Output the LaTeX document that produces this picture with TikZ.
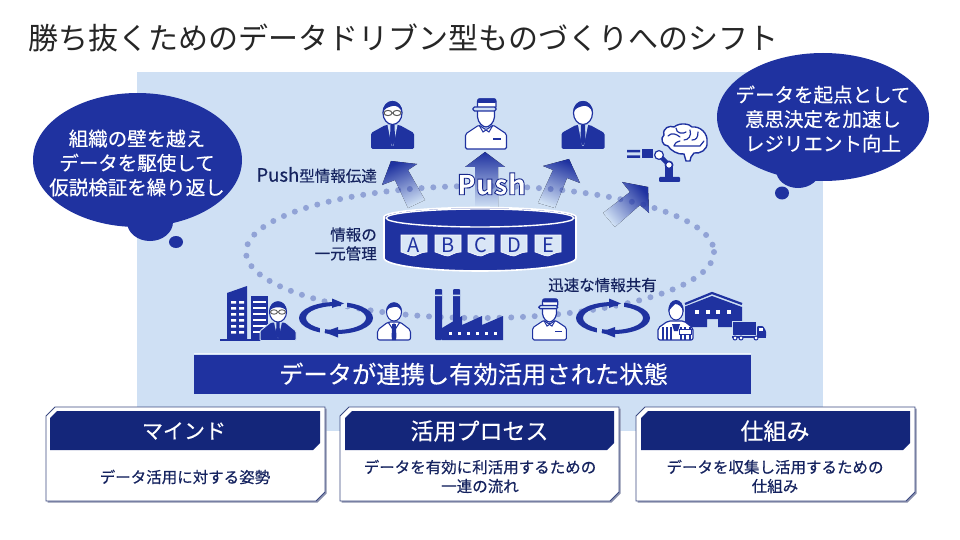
\documentclass[tikz,border=0pt]{standalone}
\usepackage{fontspec}
\setmainfont{Noto Sans CJK JP}
\newfontfamily\medcjk{Noto Sans CJK JP}[FakeBold=0.4]
\usetikzlibrary{calc}
\definecolor{bgblue}{HTML}{CFE0F4}
\definecolor{royal}{HTML}{1F32A0}
\definecolor{navy}{HTML}{14267A}
\definecolor{ink}{HTML}{15235F}
\definecolor{midblue}{HTML}{3146AE}
\definecolor{boxline}{HTML}{3C4A82}
\definecolor{boxshade}{HTML}{8A90AC}
\definecolor{tabfill}{HTML}{D9E6F6}
\newcommand{\cutfill}[6]{% x1 y1 x2 y2 cut style
  \path[#6] (#1+#5,#2) -- (#3,#2) -- (#3,#4-#5) -- (#3-#5,#4) -- (#1,#4) -- (#1,#2+#5) -- cycle;}
\tikzset{
  x=1pt,y=-1pt,
  whitetxt/.style={text=white,align=center,inner sep=0pt},
  inktxt/.style={text=ink,align=center,inner sep=0pt,font=\medcjk\fontsize{15.5}{19}\selectfont},
  bubbletxt/.style={whitetxt,font=\medcjk\fontsize{19.5}{24.4}\selectfont},
  headtxt/.style={whitetxt,font=\medcjk\fontsize{23}{27}\selectfont},
  tabtxt/.style={text=royal,inner sep=0pt,font=\fontsize{20}{22}\selectfont},
  pushshade/.style={top color=royal,middle color=midblue,bottom color=bgblue,draw=none},
  suitman/.pic={
    \fill[royal,rounded corners=1.5] (-21.5,0) -- (-21.5,-16) -- (-7,-24) -- (7,-24) -- (21.5,-16) -- (21.5,0) -- cycle;
    \fill[bgblue] (-5,-24) -- (-.8,-3) -- (.8,-3) -- (5,-24) -- cycle;
    \fill[royal] (-2,-24) -- (2,-24) -- (2.6,-8) -- (0,-3) -- (-2.6,-8) -- cycle;
    \fill[white] (0,-36) ellipse[x radius=9.5,y radius=11.5];
    \draw[royal,line width=1.2] (0,-36) ellipse[x radius=9.5,y radius=11.5];
    \fill[royal] (-9.8,-36) .. controls (-10,-52) and (10,-52) .. (9.8,-36) .. controls (8,-42) and (3,-44) .. (0,-43) .. controls (-4,-42) and (-8,-41) .. (-9.8,-36) -- cycle;
  },
  glassesman/.pic={
    \pic {suitman};
    \draw[gray!70!black,line width=1,fill=white] (-4.5,-36) ellipse[x radius=4,y radius=2.6] (4.5,-36) ellipse[x radius=4,y radius=2.6];
  },
  capman/.pic={
    \draw[royal,fill=white,line width=1.1,rounded corners=1.5] (-20.5,0) -- (-20.5,-15) -- (-7,-24) -- (0,-19) -- (7,-24) -- (20.5,-15) -- (20.5,0) -- cycle;
    \draw[royal,line width=1] (-7,-24) -- (-3,-17) -- (0,-19) -- (3,-17) -- (7,-24);
    \draw[royal,line width=1.3] (7,-10) -- (15,-10);
    \draw[royal,fill=white,line width=1.2] (-8.5,-42) -- (-8.5,-32) .. controls (-8,-26) and (-3,-22) .. (0,-22) .. controls (3,-22) and (8,-26) .. (8.5,-32) -- (8.5,-42) -- cycle;
    \draw[royal,fill=white,line width=1.3,rounded corners=2.5] (-8.5,-40) -- (-8.5,-50) -- (10,-50) -- (10,-40) -- cycle;
    \fill[royal,rounded corners=1] (-8.5,-50.5) rectangle (10,-46);
    \draw[royal,fill=bgblue,line width=1.2,rounded corners=1.5] (-13,-42) -- (10,-42) -- (10,-38) -- (-13,-38) -- cycle;
  },
  shirtman/.pic={
    \draw[royal,fill=white,line width=1.1,rounded corners=2] (-16.5,0) -- (-16.5,-10) -- (-6,-18) -- (6,-18) -- (16.5,-10) -- (16.5,0) -- cycle;
    \fill[royal] (-1.8,-16) -- (1.8,-16) -- (2.4,-4) -- (2,0) -- (-2,0) -- (-2.4,-4) -- cycle;
    \draw[royal,line width=1] (-6,-18) -- (-2,-12) -- (0,-16) -- (2,-12) -- (6,-18);
    \fill[white] (0,-28) ellipse[x radius=7.5,y radius=9];
    \draw[royal,line width=1] (0,-28) ellipse[x radius=7.5,y radius=9];
    \fill[royal] (-8,-28) .. controls (-8,-41) and (8,-41) .. (8,-28) .. controls (6,-32) and (3,-34) .. (0,-33) .. controls (-3,-33) and (-6,-32) .. (-8,-28) -- cycle;
  },
  cyclering/.pic={
    \fill[royal,even odd rule] (0,0) ellipse[x radius=37,y radius=16] (0,0) ellipse[x radius=30,y radius=12];
    \fill[bgblue] (5,-17) rectangle (11,-10);
    \fill[bgblue] (-16,10) rectangle (-11,17);
    \fill[royal] (8,-14.5) -- (-4,-19.5) -- (-4,-10) -- cycle;
    \fill[royal] (-12,14) -- (2,9) -- (2,19.5) -- cycle;
  },
}
\begin{document}
\begin{tikzpicture}
\useasboundingbox (0,0) rectangle (960,540);
\fill[white] (0,0) rectangle (960,540);
\node[anchor=west,inner sep=0pt,text=black!85,font=\fontsize{30}{34}\selectfont] (title) at (28,38) {勝ち抜くためのデータドリブン型ものづくりへのシフト};
\fill[bgblue] (137,72) rectangle (823,431);

% push arrows
\fill[pushshade,shading angle=25] (391,161) -- (417,164) -- (408,170) -- (425,200) -- (408,208) -- (395,180) -- (382,185) -- cycle;
\fill[pushshade,shading angle=0] (485,152) -- (505,167) -- (498,167) -- (498,207) -- (475,207) -- (475,167) -- (465,167) -- cycle;
\fill[pushshade,shading angle=-22] (569,159) -- (580,183) -- (567,178) -- (555,208) -- (538,203) -- (553,170) -- (543,166) -- cycle;
\fill[pushshade,shading angle=-50] (648,187) -- (649,213) -- (640,205) -- (615,227) -- (603,213) -- (630,192) -- (622,182) -- cycle;

% dotted loop
\draw[royal,opacity=.35,line width=6,line cap=round,dash pattern=on 0pt off 11.75pt] (480,252) ellipse[x radius=234,y radius=66];

% bubbles
\fill[royal] (137.5,160) ellipse[x radius=104.5,y radius=67];
\fill[royal] (150,222) ellipse[x radius=23,y radius=19];
\fill[royal] (176,242) ellipse[x radius=7,y radius=6];
\node[bubbletxt] (bubbleL) at (137,163) {組織の壁を越え\\データを駆使して\\仮説検証を繰り返し};
\fill[royal] (823,117) ellipse[x radius=106,y radius=64];
\fill[royal] (798,170) ellipse[x radius=22,y radius=18];
\fill[royal] (782,193) ellipse[x radius=7,y radius=6.5];
\node[bubbletxt] (bubbleR) at (823,119) {データを起点として\\意思決定を加速し\\レジリエント向上};

% top row people
\pic (topA) at (392.5,149) {glassesman};
\pic (topB) at (486,149) {capman};
\pic (topC) at (583,149) {suitman};

% robot and brain
\fill[royal] (627,150) rectangle (640,152.5) (627,155.5) rectangle (640,158);
\fill[royal] (642,149) rectangle (653,158);
\draw[royal,line width=4.5,line cap=round] (659,155) -- (669,165);
\fill[royal] (665,165) rectangle (673,178);
\fill[royal,rounded corners=1] (659,177) rectangle (680,182);
\draw[royal,fill=white,line width=1.2] (659,155) circle[radius=4.4];
\draw[royal,fill=white,line width=1.6] (669,165) circle[radius=3.6];
\draw[royal,fill=white,line width=1.4] (664,135) .. controls (662,128) and (670,125) .. (674,127) .. controls (680,122) and (690,124) .. (692,127) .. controls (700,126) and (708,133) .. (707,142) .. controls (708,150) and (700,154) .. (694,153) -- (691,157) -- (690,161) -- (686,161) -- (684,154) .. controls (678,155) and (670,150) .. (668,146) .. controls (662,146) and (660,138) .. (664,135) -- cycle;
\draw[royal,line width=1.2,line cap=round] (668,136) .. controls (672,132) and (676,134) .. (680,137) (676,128) .. controls (676,134) and (684,134) .. (686,132) (690,130) .. controls (692,136) and (688,140) .. (684,140) (698,132) .. controls (698,138) and (696,140) .. (692,140) (674,146) -- (700,146) (680,141) .. controls (676,142) and (674,144) .. (674,146) (700,146) -- (704,141);

% cylinder
\path[draw=white,line width=1.6,fill=royal] (384,217) -- (384,258) arc[start angle=180,end angle=0,x radius=96,y radius=13] -- (576,217) arc[start angle=0,end angle=-180,x radius=96,y radius=9.5] -- cycle;
\draw[white,line width=1.4,fill=royal] (480,218) ellipse[x radius=94,y radius=9];
\foreach \lx/\nm in {401/A,435/B,468/C,501/D,535/E}{
  \path[fill=tabfill,draw=white,line width=.6] (\lx,235) -- (\lx+26,235) -- (\lx+26,252) .. controls (\lx+20,252) and (\lx+17,255) .. (\lx+13,256) .. controls (\lx+9,256) and (\lx+4,253) .. (\lx,252) -- cycle;
  \node[tabtxt] (tab\nm) at (\lx+13,245) {\nm};
}

% labels
\node[inktxt,anchor=east] (pushlabel) at (377,175) {{\fontsize{18.5}{19}\selectfont Push}型情報伝達};
\node[inktxt,anchor=east,align=right] (dbname) at (377,244) {情報の\\一元管理};
\node[inktxt] (share) at (602.5,285) {迅速な情報共有};
\node[inner sep=0pt,font=\bfseries\fontsize{27.5}{30}\selectfont] (push) at (491.5,184) {\color{white}\special{pdf:code 2 Tr 0.9 w 0.10 0.16 0.55 RG}Push\special{pdf:code 0 Tr 0 w}};

% bottom row
\fill[royal] (227,340) -- (227,293) -- (247,286) -- (247,340) -- cycle;
\fill[royal] (251,296) rectangle (268,340);
\draw[royal,line width=1.2] (220,340) -- (262,340);
\foreach \wy in {301,307,313,319,325,331}{
  \fill[white] (231,\wy) rectangle (236,\wy+2.5) (239,\wy) rectangle (244,\wy+2.5);
  \fill[white] (253,\wy) rectangle (266,\wy+2);
}
\draw[bgblue,fill=royal,line width=1,rounded corners=1] (260,340.5) -- (260,331) -- (271,322) -- (285,322) -- (296,331) -- (296,340.5) -- cycle;
\fill[bgblue] (274,322) -- (277.5,338) -- (278.5,338) -- (282,322) -- cycle;
\fill[royal] (276.5,322) -- (279.5,322) -- (280,335) -- (278,339) -- (276,335) -- cycle;
\fill[white] (278,312) ellipse[x radius=8.5,y radius=10];
\draw[royal,line width=1.1] (278,312) ellipse[x radius=8.5,y radius=10];
\fill[royal] (269.5,311) .. controls (269.5,298) and (286.5,298) .. (286.5,311) .. controls (284,306) and (272,306) .. (269.5,311) -- cycle;
\draw[gray!70!black,line width=.9] (274,312) ellipse[x radius=3.5,y radius=2.2] (282,312) ellipse[x radius=3.5,y radius=2.2];

\pic (ringA) at (336,318) {cyclering};
\pic (manB) at (394,340) {shirtman};

% factory
\fill[royal,rounded corners=1] (435,340) -- (435,289) -- (442,289) -- (442,340) -- cycle;
\fill[royal,rounded corners=1] (453,289) rectangle (460,330);
\fill[bgblue] (435,294.5) rectangle (442,296) (453,294.5) rectangle (460,296);
\fill[royal] (442,340) -- (442,328) -- (462,316) -- (462,325) -- (482,316) -- (482,325) -- (503,316) -- (503,340) -- cycle;
\foreach \wx in {452,461,470,479,488,497}{ \fill[white] (\wx-3.5,331.5) rectangle (\wx,334.5); }

\pic[scale=.82] (manC) at (549.5,340) {capman};
\pic (ringB) at (613,318) {cyclering};

% warehouse
\draw[royal,line width=2.2] (685,304) -- (712,293) -- (742,304);
\fill[royal] (685,306.5) -- (712,296) -- (742,307) -- (742,327) -- (718,327) -- (718,319) -- (707,319) -- (707,327) -- (685,327) -- cycle;
\foreach \wx in {697,707.5,718,729}{ \fill[white] (\wx-2,310) rectangle (\wx+2,314); }
\draw[bgblue,line width=1,fill=royal] (732,321) rectangle (756,335);
\fill[royal,rounded corners=1] (757,326) -- (763,326) -- (766,331) -- (766,337) -- (757,337) -- cycle;
\fill[white] (759,328) rectangle (763,331);
\fill[royal] (732,336) rectangle (766,337.5);
\foreach \wx in {735,741,756}{ \draw[royal,fill=white,line width=1] (\wx,338) circle[radius=2]; }

% striped man
\draw[royal,fill=white,line width=1.2,rounded corners=2] (658,340) -- (658,328) -- (668,321) -- (684,321) -- (693,328) -- (693,340) -- cycle;
\foreach \sx in {662.5,667,671,681,685,689.5}{ \fill[royal] (\sx-1,327) rectangle (\sx+1,340); }
\fill[royal] (672,324) -- (680,324) -- (678,331) -- (674,331) -- cycle;
\draw[royal,fill=white,line width=1] (679,329) rectangle (691,334);
\fill[white] (676,311) ellipse[x radius=7,y radius=9];
\draw[royal,line width=1] (676,311) ellipse[x radius=7,y radius=9];
\fill[royal] (668.5,312) .. controls (667,296) and (685,296) .. (683.5,312) .. controls (682,307) and (679,304) .. (675,304) .. controls (673,307) and (670,308) .. (668.5,312) -- cycle;

% state band
\fill[royal] (194,355) rectangle (751,394);
\draw[white,opacity=.7,line width=.8] (194,353.5) -- (751,353.5);
\node[whitetxt,font=\medcjk\fontsize{24.3}{28}\selectfont] (state) at (473.5,374) {データが連携し有効活用された状態};

% three boxes
\cutfill{47.5}{408.5}{326.5}{502.5}{9}{fill=boxshade}
\cutfill{46}{407}{325}{501}{9}{fill=white,draw=boxline,line width=.9}
\cutfill{50}{411}{320}{450}{7}{fill=navy}
\node[headtxt,font=\medcjk\fontsize{21}{27}\selectfont] (headA) at (184,431) {マインド};
\node[inktxt] (bodyA) at (185,477) {データ活用に対する姿勢};

\cutfill{341.5}{408.5}{620.5}{502.5}{9}{fill=boxshade}
\cutfill{340}{407}{619}{501}{9}{fill=white,draw=boxline,line width=.9}
\cutfill{345}{411}{614}{450}{7}{fill=navy}
\node[headtxt] (headB) at (479.5,431) {活用プロセス};
\node[inktxt] (bodyB) at (480,476.5) {データを有効に利活用するための\\一連の流れ};

\cutfill{637.5}{408.5}{916.5}{502.5}{9}{fill=boxshade}
\cutfill{636}{407}{915}{501}{9}{fill=white,draw=boxline,line width=.9}
\cutfill{641}{411}{910}{450}{7}{fill=navy}
\node[headtxt] (headC) at (775,431) {仕組み};
\node[inktxt] (bodyC) at (775,476.5) {データを収集し活用するための\\仕組み};
\end{tikzpicture}
\end{document}
